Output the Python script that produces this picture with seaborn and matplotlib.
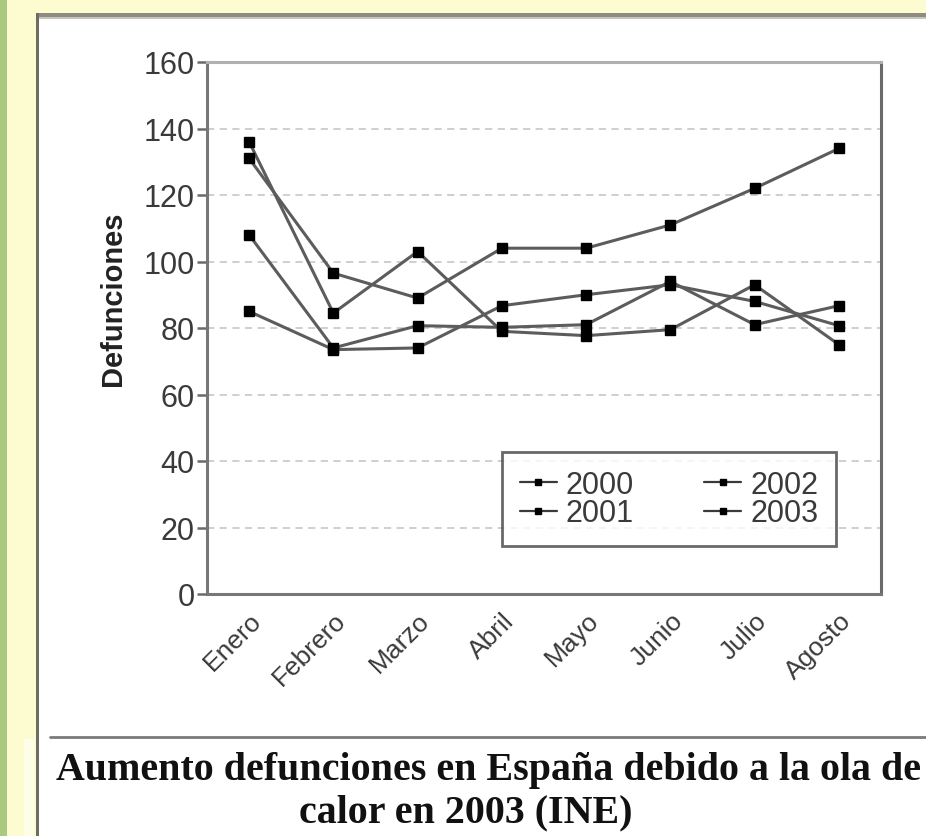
import matplotlib
matplotlib.use("Agg")
import matplotlib.pyplot as plt
from matplotlib.lines import Line2D
from matplotlib.patches import Rectangle
import matplotlib.transforms as mtransforms
import seaborn as sns
import pandas as pd

# ---- data ----
months = ["Enero", "Febrero", "Marzo", "Abril", "Mayo", "Junio", "Julio", "Agosto"]
years = ["2000", "2001", "2002", "2003"]
d2000 = [136, 84.5, 103, 79, 77.7, 79.5, 93, 75]
d2001 = [108, 74, 80.7, 80.2, 81, 94, 81, 86.7]
d2002 = [85, 73.5, 74, 86.7, 90, 93, 88, 80.7]
d2003 = [131, 96.5, 89, 104, 104, 111, 122, 134]
y_ticks = [0, 20, 40, 60, 80, 100, 120, 140, 160]

series = {"2000": d2000, "2001": d2001, "2002": d2002, "2003": d2003}
rows = []
for yr in years:
    for m, v in zip(months, series[yr]):
        rows.append({"Mes": m, "Defunciones": v, "Año": yr})
df = pd.DataFrame(rows)

sns.set_style("white")
plt.rcParams["font.family"] = ["Liberation Sans", "DejaVu Sans"]

W, H = 926, 837
fig = plt.figure(figsize=(W / 100, H / 100), dpi=100)
fig.patch.set_facecolor("white")

# decorative page border (green strip, yellow margin, frame lines)
def px_rect(x0, y0, x1, y1, color):
    fig.patches.append(Rectangle((x0 / W, 1 - y1 / H), (x1 - x0) / W, (y1 - y0) / H,
                                 transform=fig.transFigure, color=color, zorder=0, lw=0))

px_rect(0, 0, W, 14, "#fdfcd0")
px_rect(0, 0, 36, H, "#fdfcd0")
px_rect(24, 740, 34, H, "#fefee8")
px_rect(0, 0, 7, H, "#a9c880")
px_rect(36, 14, W, 18, "#8e8c80")
px_rect(36, 18, W, 20, "#c8c6bc")
px_rect(36, 14, 39, H, "#6e6d62")

# axes
L, R, T, B = 207, 881, 63, 595
ax = fig.add_axes([L / W, 1 - B / H, (R - L) / W, (B - T) / H])
ax.set_facecolor("white")

sns.lineplot(data=df, x="Mes", y="Defunciones", hue="Año", hue_order=years,
             palette=["#5c5c5c"] * 4, marker="s", markersize=7,
             markerfacecolor="black", markeredgecolor="black", markeredgewidth=1,
             linewidth=2.2, legend=False, ax=ax, sort=False)

ax.set_ylim(0, 160)
ax.set_xlim(-0.5, len(months) - 0.5)
ax.set_yticks(y_ticks)
ax.set_yticklabels([str(t) for t in y_ticks], fontsize=22, color="#3a3a3a")
ax.set_xticks(range(len(months)))
ax.set_xticklabels(months, rotation=45, ha="right", rotation_mode="anchor",
                   fontsize=19, color="#3a3a3a")
shift = mtransforms.ScaledTranslation(8 / 100, 0, fig.dpi_scale_trans)
for lbl in ax.get_xticklabels():
    lbl.set_transform(lbl.get_transform() + shift)
ax.set_xticks([i - 0.5 for i in range(len(months) + 1)], minor=True)
ax.tick_params(axis="x", which="major", length=0, pad=10)
ax.tick_params(axis="x", which="minor", length=8, width=1.8, color="#6a6a6a", direction="out")
ax.tick_params(axis="y", which="major", length=7, width=1.8, color="#6a6a6a",
               direction="out", pad=2, left=True)

for v in y_ticks[1:-1]:
    ax.axhline(v, color="#cbcbcb", lw=1.3, ls=(0, (4, 3)), zorder=0)

for side, col in [("left", "#777777"), ("bottom", "#777777"),
                  ("right", "#6a6a6a"), ("top", "#b0b0b0")]:
    ax.spines[side].set_visible(True)
    ax.spines[side].set_color(col)
    ax.spines[side].set_linewidth(2.2)

ax.set_xlabel("")
ax.set_ylabel("Defunciones", fontsize=21, fontweight="bold", color="#222222")
ax.yaxis.set_label_coords(-0.118, 0.556)

handles = [Line2D([], [], color="#3a3a3a", lw=1.6, marker="s", markersize=4,
                  markerfacecolor="black", markeredgecolor="black") for _ in years]
leg = ax.legend(handles, years, ncol=2, loc="lower left",
                bbox_to_anchor=(0.438, 0.09), borderaxespad=0, fontsize=22,
                frameon=True, fancybox=False, handlelength=1.2, handletextpad=0.3,
                columnspacing=2.3, labelspacing=-0.05, borderpad=0.58,
                labelcolor="#3a3a3a")
leg.get_frame().set_edgecolor("#444444")
leg.get_frame().set_linewidth(2)

# separator line and caption
fig.add_artist(Line2D([50 / W, 1.0], [1 - 738 / H, 1 - 738 / H],
                      transform=fig.transFigure, color="#7a7a7a", lw=2))
fig.text(488 / W, 1 - 771 / H, "Aumento defunciones en España debido a la ola de",
         ha="center", va="center", fontsize=28.8, fontweight="bold",
         family=["Liberation Serif", "DejaVu Serif"], color="#111111")
fig.text(466 / W, 1 - 813 / H, "calor en 2003 (INE)",
         ha="center", va="center", fontsize=28.8, fontweight="bold",
         family=["Liberation Serif", "DejaVu Serif"], color="#111111")

fig.savefig("out.png", dpi=100)
